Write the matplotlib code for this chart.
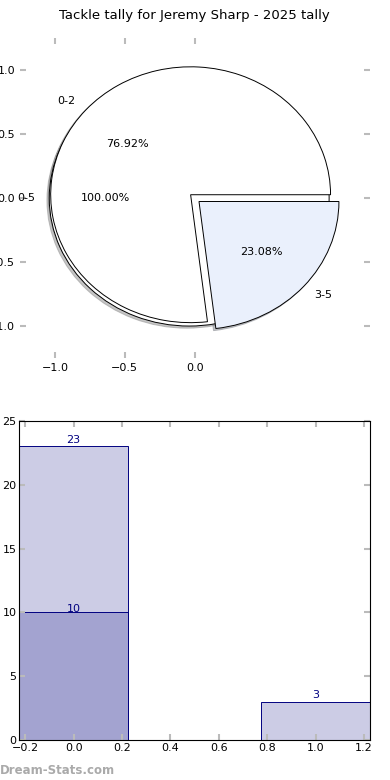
import matplotlib
matplotlib.use("Agg")
import matplotlib.pyplot as plt

# data
title = "Tackle tally for Jeremy Sharp - 2025 tally"
outer_labels = ["0-5"]
outer_values = [23]
inner_labels = ["0-2", "3-5"]
inner_values = [10, 3]
inner_colors = ["white", "#eaf0fc"]

bar_x = [0, 1]
bar_total = [23, 3]
bar_first = [10, 0]

fig = plt.figure(figsize=(3.9, 7.8), dpi=100)

# --- pie panel ---
ax1 = fig.add_axes([0.051, 0.541, 0.897, 0.41])
shadow_style = dict(ox=-0.012, oy=-0.012, shade=0.45)
ax1.pie(outer_values, labels=outer_labels, colors=["white"], autopct="%.2f%%",
        explode=[0.04], shadow=shadow_style, startangle=0,
        wedgeprops=dict(edgecolor="black", linewidth=0.7),
        textprops=dict(fontsize=8))
ax1.pie(inner_values, labels=inner_labels, colors=inner_colors, autopct="%.2f%%",
        explode=[0.04, 0.04], shadow=shadow_style, startangle=0,
        wedgeprops=dict(edgecolor="black", linewidth=0.7),
        textprops=dict(fontsize=8))
ax1.set_aspect("auto")
ax1.set_xlim(-1.25, 1.25)
ax1.set_ylim(-1.25, 1.25)
ax1.set_frame_on(False)
ax1.set_xticks([-1.0, -0.5, 0.0])
ax1.set_yticks([-1.0, -0.5, 0.0, 0.5, 1.0])
ax1.tick_params(direction="in", color="#bbbbbb", length=4, width=1.5,
                labelsize=8, top=True, right=True)
ax1.set_title(title, fontsize=9.5, pad=14)

# --- bar panel ---
ax2 = fig.add_axes([0.049, 0.0513, 0.9, 0.409])
navy_face = (0, 0, 0.5, 0.2)
ax2.bar(bar_x, bar_total, width=0.45, color=navy_face, edgecolor="navy", linewidth=0.7)
ax2.bar(bar_x, bar_first, width=0.45, color=navy_face, edgecolor="navy", linewidth=0.7)
for x, v in zip(bar_x, bar_total):
    if v:
        ax2.text(x, v + 0.1, str(v), ha="center", va="bottom", color="navy", fontsize=8)
for x, v in zip(bar_x, bar_first):
    if v:
        ax2.text(x, v - 0.15, str(v), ha="center", va="bottom", color="navy", fontsize=8)
ax2.set_xlim(-0.225, 1.225)
ax2.set_ylim(0, 25)
ax2.set_xticks([-0.2, 0.0, 0.2, 0.4, 0.6, 0.8, 1.0, 1.2])
ax2.set_yticks([0, 5, 10, 15, 20, 25])
ax2.tick_params(direction="in", color="#bbbbbb", length=4, width=1.5,
                labelsize=8, top=True, right=True, pad=2)

fig.text(0.0, 0.004, "Dream-Stats.com", color="#aaaaaa", fontsize=8.5,
         fontweight="bold", ha="left", va="bottom")

fig.savefig("out.png", dpi=100)
